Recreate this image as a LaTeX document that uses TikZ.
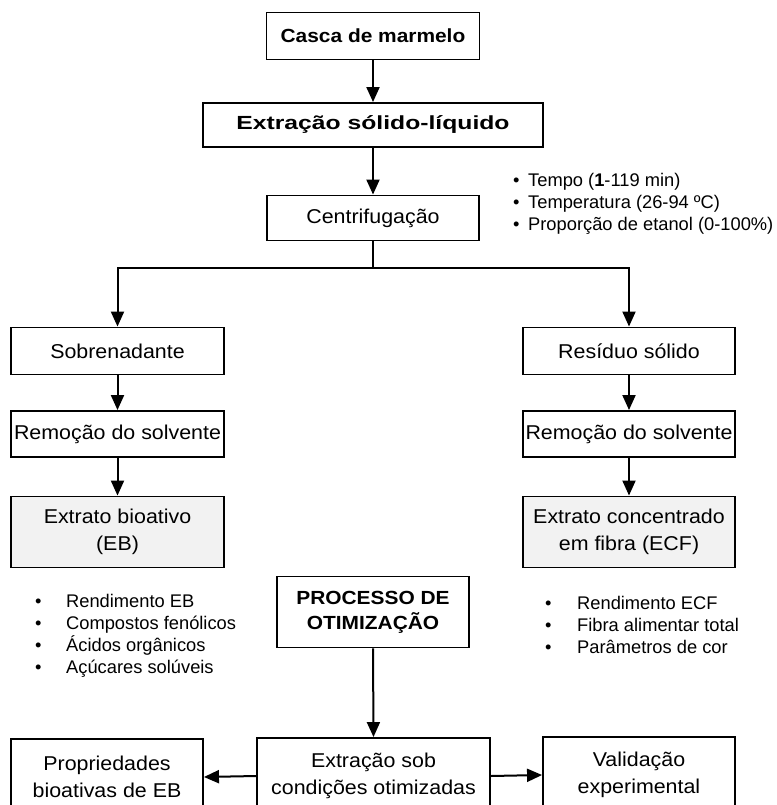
\documentclass[tikz,border=0pt]{standalone}
\usepackage{fontspec}
\setmainfont{Liberation Sans}
\newfontfamily\boxfont[FakeStretch=1.07]{Liberation Sans}
\newfontfamily\wideboxfont[FakeStretch=1.1]{Liberation Sans}
\newfontfamily\extrawidefont[FakeStretch=1.3]{Liberation Sans}
\usetikzlibrary{arrows.meta}
\definecolor{boxgray}{HTML}{F2F2F2}
\tikzset{
  box/.style={draw, line width=1.9pt, align=center, inner sep=0pt,
    font=\boxfont\fontsize{20}{27}\selectfont},
  arr/.style={line width=2pt, -{Triangle[length=15pt,width=13pt]}},
  plain/.style={line width=2pt},
  blist/.style={align=left, inner sep=0pt, anchor=west,
    font=\fontsize{18.3}{22}\selectfont}
}
\newcommand{\bitem}[2]{\makebox[#1][l]{\textbullet}#2}
\begin{document}
\begin{tikzpicture}[x=1pt,y=-1pt]
\useasboundingbox (0,0) rectangle (776,805);
% main column
\node[box, minimum width=213pt, minimum height=47pt, font=\wideboxfont\fontsize{19}{26}\selectfont\bfseries] (casca) at (373,36) {Casca de marmelo};
\node[box, minimum width=340pt, minimum height=44pt, font=\extrawidefont\fontsize{19}{26}\selectfont\bfseries] (ext) at (373,125) {Extração sólido-líquido};
\node[box, minimum width=212pt, minimum height=45pt] (centr) at (373,218) {Centrifugação};
\node[blist] (cond) at (513,204) {\bitem{15pt}{Tempo (\textbf{1}-119 min)}\\
\bitem{15pt}{Temperatura (26-94 ºC)}\\
\bitem{15pt}{Proporção de etanol (0-100\%)}};
\coordinate (br) at (373,268);
% left branch
\node[box, minimum width=213pt, minimum height=47pt] (sob) at (117.5,351) {Sobrenadante};
\node[box, minimum width=213pt, minimum height=46pt] (rem1) at (117.5,434) {Remoção do solvente};
\node[box, fill=boxgray, minimum width=213pt, minimum height=71pt] (eb) at (117.5,532) {Extrato bioativo\\(EB)};
\node[blist] (leb) at (35,636) {\bitem{31pt}{Rendimento EB}\\
\bitem{31pt}{Compostos fenólicos}\\
\bitem{31pt}{Ácidos orgânicos}\\
\bitem{31pt}{Açúcares solúveis}};
% right branch
\node[box, minimum width=212pt, minimum height=47pt] (res) at (629,351) {Resíduo sólido};
\node[box, minimum width=212pt, minimum height=46pt] (rem2) at (629,434) {Remoção do solvente};
\node[box, fill=boxgray, minimum width=212pt, minimum height=71pt] (ecf) at (629,532) {Extrato concentrado\\em fibra (ECF)};
\node[blist] (lecf) at (545,625) {\bitem{32pt}{Rendimento ECF}\\
\bitem{32pt}{Fibra alimentar total}\\
\bitem{32pt}{Parâmetros de cor}};
% optimisation
\node[box, minimum width=192pt, minimum height=71pt, font=\wideboxfont\fontsize{19}{25}\selectfont\bfseries] (proc) at (373,612) {PROCESSO DE\\OTIMIZAÇÃO};
\node[box, minimum width=233pt, minimum height=76pt] (opt) at (373.5,776) {Extração sob\\condições otimizadas};
\node[box, minimum width=192pt, minimum height=76pt] (prop) at (107,777) {Propriedades\\bioativas de EB};
\node[box, minimum width=192pt, minimum height=76pt] (val) at (639,775) {Validação\\experimental};
% connectors
\draw[arr] (casca.south) -- (ext.north);
\draw[arr] (ext.south) -- (centr.north);
\draw[plain] (centr.south) -- (br);
\draw[arr] (br) -| (sob.north);
\draw[arr] (br) -| (res.north);
\draw[arr] (sob.south) -- (rem1.north);
\draw[arr] (rem1.south) -- (eb.north);
\draw[arr] (res.south) -- (rem2.north);
\draw[arr] (rem2.south) -- (ecf.north);
\draw[arr] (proc.south) -- (opt.north);
\draw[arr] (opt.west) -- (prop.east);
\draw[arr] (opt.east) -- (val.west);
\end{tikzpicture}
\end{document}
